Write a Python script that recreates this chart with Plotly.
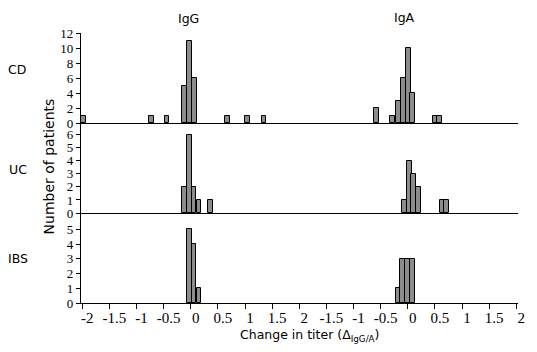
import plotly.graph_objects as go

# ---- data (change in titer, number of patients) ----
CD_IGG_X = [-1.98, -0.72, -0.44, -0.11, -0.02, 0.07, 0.67, 1.05, 1.35]
CD_IGG_N = [1, 1, 1, 5, 11, 6, 1, 1, 1]
CD_IGA_X = [-0.58, -0.28, -0.17, -0.08, 0.01, 0.09, 0.51, 0.59]
CD_IGA_N = [2, 1, 3, 6, 10, 4, 1, 1]

UC_IGG_X = [-0.12, -0.03, 0.06, 0.15, 0.36]
UC_IGG_N = [2, 6, 2, 1, 1]
UC_IGA_X = [-0.06, 0.03, 0.11, 0.20, 0.63, 0.71]
UC_IGA_N = [1, 4, 3, 2, 1, 1]

IBS_IGG_X = [-0.03, 0.06, 0.15]
IBS_IGG_N = [5, 4, 1]
IBS_IGA_X = [-0.18, -0.10, -0.01, 0.09]
IBS_IGA_N = [1, 3, 3, 3]

GROUPS = ["CD", "UC", "IBS"]
PANELS = ["IgG", "IgA"]
X_TICK_VALUES = [-2, -1.5, -1, -0.5, 0, 0.5, 1, 1.5, 2]
X_TICK_TEXT = ["-2", "-1.5", "-1", "-0.5", "0", "0.5", "1", "1.5", "2",
               "-1.5", "-1", "-0.5", "0", "0.5", "1", "1.5", "2"]
Y_TICKS = {"CD": [0, 2, 4, 6, 8, 10, 12], "UC": [0, 1, 2, 3, 4, 5, 6], "IBS": [0, 1, 2, 3, 4, 5]}
Y_MAX = {"CD": 12, "UC": 6.9, "IBS": 6.12}

IGA_OFFSET = 4  # IgA block drawn to the right of the IgG block on a shared axis

data = {
    "CD": (CD_IGG_X, CD_IGG_N, CD_IGA_X, CD_IGA_N),
    "UC": (UC_IGG_X, UC_IGG_N, UC_IGA_X, UC_IGA_N),
    "IBS": (IBS_IGG_X, IBS_IGG_N, IBS_IGA_X, IBS_IGA_N),
}

BAR_FILL = "#8c8c8c"
SANS = "DejaVu Sans"
SERIF = "Liberation Serif"

fig = go.Figure()
domains = {"CD": [2/3, 1], "UC": [1/3, 2/3], "IBS": [0, 1/3]}
axis_ids = {"CD": "", "UC": "2", "IBS": "3"}

for g in GROUPS:
    gx, gn, ax_, an = data[g]
    xs = list(gx) + [v + IGA_OFFSET for v in ax_]
    ys = list(gn) + list(an)
    aid = axis_ids[g]
    fig.add_trace(go.Bar(
        x=xs, y=ys, width=0.088,
        marker=dict(color=BAR_FILL, line=dict(color="black", width=1)),
        xaxis="x" + aid, yaxis="y" + aid, showlegend=False,
    ))

all_ticks = X_TICK_VALUES + [v + IGA_OFFSET for v in X_TICK_VALUES[1:]]
xrange = [-2.024, 6.032]

layout = dict(
    width=537, height=352,
    margin=dict(l=81, r=12, t=33, b=49),
    paper_bgcolor="white", plot_bgcolor="white",
    bargap=0,
    font=dict(family=SANS, size=12, color="black"),
)

for g in GROUPS:
    aid = axis_ids[g]
    is_bottom = g == "IBS"
    xa = dict(
        domain=[0, 1], range=xrange, anchor="y" + aid,
        showline=True, linecolor="black", linewidth=1.3,
        showgrid=False, zeroline=False,
        tickmode="array", tickvals=all_ticks, ticktext=X_TICK_TEXT,
        ticks="outside" if is_bottom else "", ticklen=5, tickcolor="black",
        showticklabels=is_bottom,
        tickfont=dict(family=SERIF, size=15, color="black"),
        ticklabelshift=5,
        ticklabelstandoff=-4,
    )
    if aid:
        xa["matches"] = "x"
    ya = dict(
        domain=domains[g], range=[0, Y_MAX[g]], anchor="x" + aid,
        showline=True, linecolor="black", linewidth=1.3,
        showgrid=False, zeroline=False,
        tickmode="array", tickvals=Y_TICKS[g],
        ticks="outside", ticklen=4, tickcolor="black",
        tickfont=dict(family=SERIF, size=13, color="black"),
    )
    layout["xaxis" + aid] = xa
    layout["yaxis" + aid] = ya

annotations = [
    dict(text="IgG", x=0.2455, y=1.054, xref="paper", yref="paper", showarrow=False,
         xanchor="center", yanchor="middle", font=dict(size=12.5)),
    dict(text="IgA", x=0.741, y=1.056, xref="paper", yref="paper", showarrow=False,
         xanchor="center", yanchor="middle", font=dict(size=12.5)),
    dict(text="CD", x=-0.147, y=0.863, xref="paper", yref="paper", showarrow=False,
         xanchor="center", yanchor="middle", font=dict(size=12.5)),
    dict(text="UC", x=-0.145, y=0.4926, xref="paper", yref="paper", showarrow=False,
         xanchor="center", yanchor="middle", font=dict(size=12.5)),
    dict(text="IBS", x=-0.145, y=0.163, xref="paper", yref="paper", showarrow=False,
         xanchor="center", yanchor="middle", font=dict(size=12.5)),
    dict(text="Number of patients", x=-0.0743, y=0.504, xref="paper", yref="paper",
         showarrow=False, textangle=-90, xanchor="center", yanchor="middle",
         font=dict(size=14)),
    dict(text="Change in titer (Δ<sub>IgG/A</sub>)", x=0.524, y=-0.1215,
         xref="paper", yref="paper", showarrow=False,
         xanchor="center", yanchor="middle", font=dict(size=12.5)),
]
layout["annotations"] = annotations

fig.update_layout(**layout)
fig.write_html("out.html")
